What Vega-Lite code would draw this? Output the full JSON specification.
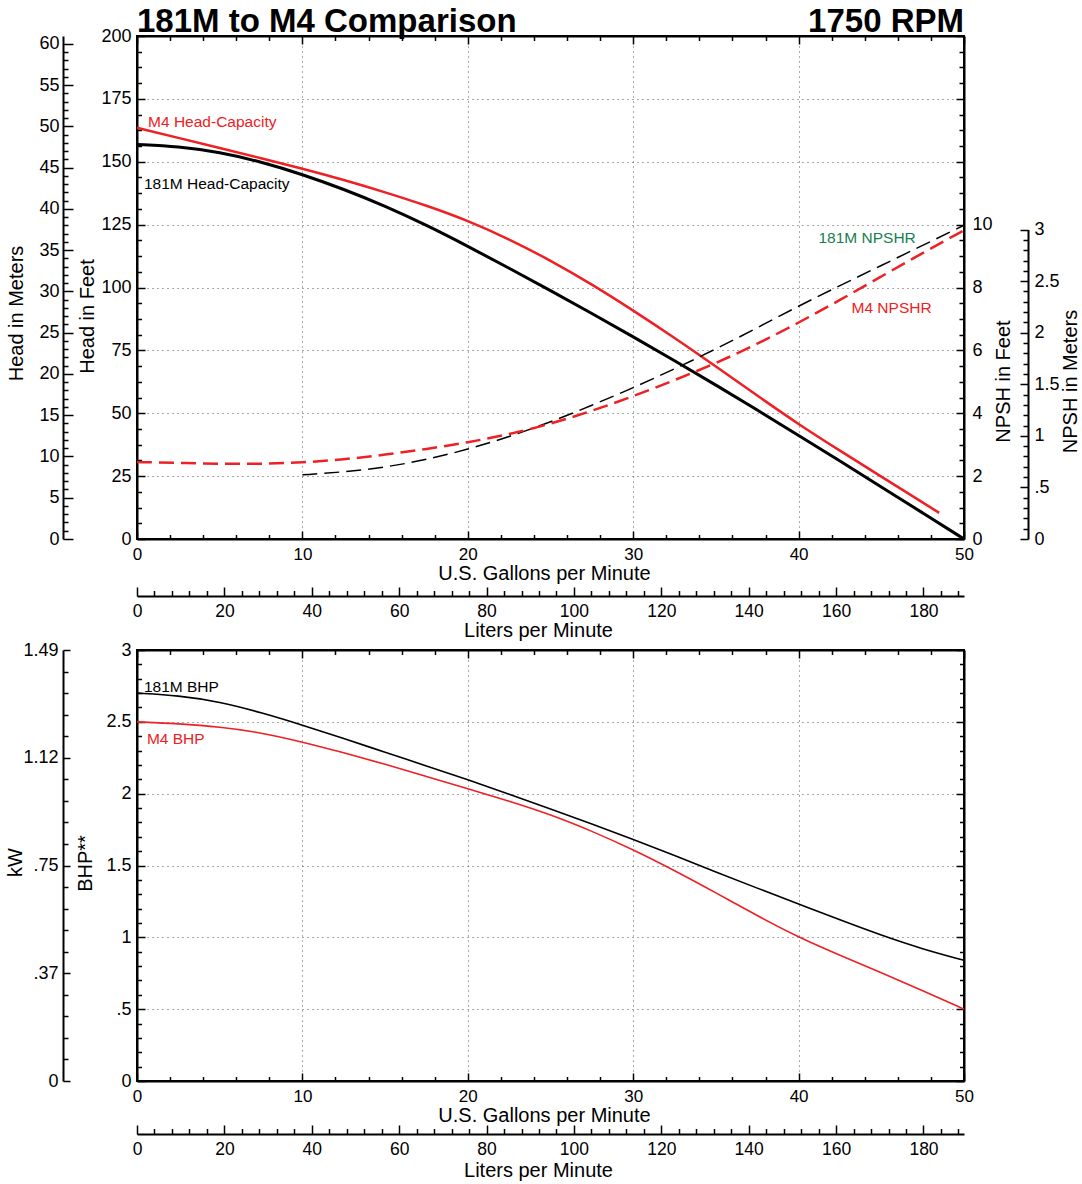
{
  "$schema": "https://vega.github.io/schema/vega-lite/v6.json",
  "autosize": {"type": "pad"},
  "padding": {"left": 4, "top": 5, "right": 2, "bottom": 3},
  "spacing": -1,
  "datasets": {
    "head": [
      {"pump": "181M", "gpm": 0, "ft": 156.9}, {"pump": "181M", "gpm": 2.5, "ft": 156.1}, {"pump": "181M", "gpm": 5, "ft": 153.8},
      {"pump": "181M", "gpm": 7.5, "ft": 150.0}, {"pump": "181M", "gpm": 10, "ft": 145.0}, {"pump": "181M", "gpm": 12.5, "ft": 139.1},
      {"pump": "181M", "gpm": 15, "ft": 132.4}, {"pump": "181M", "gpm": 17.5, "ft": 124.8}, {"pump": "181M", "gpm": 20, "ft": 116.4},
      {"pump": "181M", "gpm": 22.5, "ft": 107.7}, {"pump": "181M", "gpm": 25, "ft": 98.8}, {"pump": "181M", "gpm": 27.5, "ft": 89.7},
      {"pump": "181M", "gpm": 30, "ft": 80.4}, {"pump": "181M", "gpm": 32.5, "ft": 70.9}, {"pump": "181M", "gpm": 35, "ft": 61.2},
      {"pump": "181M", "gpm": 37.5, "ft": 51.3}, {"pump": "181M", "gpm": 40, "ft": 41.2}, {"pump": "181M", "gpm": 42.5, "ft": 31.0},
      {"pump": "181M", "gpm": 45, "ft": 20.7}, {"pump": "181M", "gpm": 47.5, "ft": 10.4}, {"pump": "181M", "gpm": 50, "ft": 0},
      {"pump": "M4", "gpm": 0, "ft": 163.5}, {"pump": "M4", "gpm": 2.5, "ft": 159.5}, {"pump": "M4", "gpm": 5, "ft": 155.5},
      {"pump": "M4", "gpm": 7.5, "ft": 151.4}, {"pump": "M4", "gpm": 10, "ft": 147.3}, {"pump": "M4", "gpm": 12.5, "ft": 142.8},
      {"pump": "M4", "gpm": 15, "ft": 137.9}, {"pump": "M4", "gpm": 17.5, "ft": 132.6}, {"pump": "M4", "gpm": 20, "ft": 126.6},
      {"pump": "M4", "gpm": 22.5, "ft": 119.2}, {"pump": "M4", "gpm": 25, "ft": 110.8}, {"pump": "M4", "gpm": 27.5, "ft": 101.3},
      {"pump": "M4", "gpm": 30, "ft": 90.9}, {"pump": "M4", "gpm": 32.5, "ft": 80.0}, {"pump": "M4", "gpm": 35, "ft": 68.6},
      {"pump": "M4", "gpm": 37.5, "ft": 57.0}, {"pump": "M4", "gpm": 40, "ft": 45.6}, {"pump": "M4", "gpm": 42.5, "ft": 35.1},
      {"pump": "M4", "gpm": 45, "ft": 24.8}, {"pump": "M4", "gpm": 47.5, "ft": 14.5}, {"pump": "M4", "gpm": 48.5, "ft": 10.4}
    ],
    "npsh": [
      {"pump": "181M", "gpm": 10, "ft": 2.04}, {"pump": "181M", "gpm": 12.5, "ft": 2.13}, {"pump": "181M", "gpm": 15, "ft": 2.28},
      {"pump": "181M", "gpm": 17.5, "ft": 2.52}, {"pump": "181M", "gpm": 20, "ft": 2.85}, {"pump": "181M", "gpm": 22.5, "ft": 3.25},
      {"pump": "181M", "gpm": 25, "ft": 3.72}, {"pump": "181M", "gpm": 27.5, "ft": 4.25}, {"pump": "181M", "gpm": 30, "ft": 4.81},
      {"pump": "181M", "gpm": 32.5, "ft": 5.41}, {"pump": "181M", "gpm": 35, "ft": 6.04}, {"pump": "181M", "gpm": 37.5, "ft": 6.72},
      {"pump": "181M", "gpm": 40, "ft": 7.41}, {"pump": "181M", "gpm": 42.5, "ft": 8.06}, {"pump": "181M", "gpm": 45, "ft": 8.70},
      {"pump": "181M", "gpm": 47.5, "ft": 9.34}, {"pump": "181M", "gpm": 50, "ft": 9.98},
      {"pump": "M4", "gpm": 0, "ft": 2.45}, {"pump": "M4", "gpm": 2.5, "ft": 2.42}, {"pump": "M4", "gpm": 5, "ft": 2.39},
      {"pump": "M4", "gpm": 7.5, "ft": 2.39}, {"pump": "M4", "gpm": 10, "ft": 2.43}, {"pump": "M4", "gpm": 12.5, "ft": 2.53},
      {"pump": "M4", "gpm": 15, "ft": 2.68}, {"pump": "M4", "gpm": 17.5, "ft": 2.86}, {"pump": "M4", "gpm": 20, "ft": 3.07},
      {"pump": "M4", "gpm": 22.5, "ft": 3.33}, {"pump": "M4", "gpm": 25, "ft": 3.66}, {"pump": "M4", "gpm": 27.5, "ft": 4.07},
      {"pump": "M4", "gpm": 30, "ft": 4.54}, {"pump": "M4", "gpm": 32.5, "ft": 5.05}, {"pump": "M4", "gpm": 35, "ft": 5.59},
      {"pump": "M4", "gpm": 37.5, "ft": 6.2}, {"pump": "M4", "gpm": 40, "ft": 6.88}, {"pump": "M4", "gpm": 42.5, "ft": 7.6},
      {"pump": "M4", "gpm": 45, "ft": 8.35}, {"pump": "M4", "gpm": 47.5, "ft": 9.1}, {"pump": "M4", "gpm": 50, "ft": 9.82}
    ],
    "bhp": [
      {"pump": "181M", "gpm": 0, "bhp": 2.70}, {"pump": "181M", "gpm": 2.5, "bhp": 2.683}, {"pump": "181M", "gpm": 5, "bhp": 2.64},
      {"pump": "181M", "gpm": 7.5, "bhp": 2.565}, {"pump": "181M", "gpm": 10, "bhp": 2.478}, {"pump": "181M", "gpm": 12.5, "bhp": 2.384},
      {"pump": "181M", "gpm": 15, "bhp": 2.288}, {"pump": "181M", "gpm": 17.5, "bhp": 2.193}, {"pump": "181M", "gpm": 20, "bhp": 2.097},
      {"pump": "181M", "gpm": 22.5, "bhp": 1.996}, {"pump": "181M", "gpm": 25, "bhp": 1.893}, {"pump": "181M", "gpm": 27.5, "bhp": 1.789},
      {"pump": "181M", "gpm": 30, "bhp": 1.682}, {"pump": "181M", "gpm": 32.5, "bhp": 1.569}, {"pump": "181M", "gpm": 35, "bhp": 1.455},
      {"pump": "181M", "gpm": 37.5, "bhp": 1.342}, {"pump": "181M", "gpm": 40, "bhp": 1.232}, {"pump": "181M", "gpm": 42.5, "bhp": 1.121},
      {"pump": "181M", "gpm": 45, "bhp": 1.014}, {"pump": "181M", "gpm": 47.5, "bhp": 0.918}, {"pump": "181M", "gpm": 50, "bhp": 0.84},
      {"pump": "M4", "gpm": 0, "bhp": 2.50}, {"pump": "M4", "gpm": 2.5, "bhp": 2.487}, {"pump": "M4", "gpm": 5, "bhp": 2.465},
      {"pump": "M4", "gpm": 7.5, "bhp": 2.425}, {"pump": "M4", "gpm": 10, "bhp": 2.36}, {"pump": "M4", "gpm": 12.5, "bhp": 2.285},
      {"pump": "M4", "gpm": 15, "bhp": 2.205}, {"pump": "M4", "gpm": 17.5, "bhp": 2.12}, {"pump": "M4", "gpm": 20, "bhp": 2.035},
      {"pump": "M4", "gpm": 22.5, "bhp": 1.948}, {"pump": "M4", "gpm": 25, "bhp": 1.855}, {"pump": "M4", "gpm": 27.5, "bhp": 1.74},
      {"pump": "M4", "gpm": 30, "bhp": 1.61}, {"pump": "M4", "gpm": 32.5, "bhp": 1.465}, {"pump": "M4", "gpm": 35, "bhp": 1.31},
      {"pump": "M4", "gpm": 37.5, "bhp": 1.15}, {"pump": "M4", "gpm": 40, "bhp": 1.00}, {"pump": "M4", "gpm": 42.5, "bhp": 0.875},
      {"pump": "M4", "gpm": 45, "bhp": 0.755}, {"pump": "M4", "gpm": 47.5, "bhp": 0.628}, {"pump": "M4", "gpm": 50, "bhp": 0.50}
    ],
    "labels_head": [
      {"label": "M4 Head-Capacity", "gpm": 0.67, "ft": 165.8},
      {"label": "181M Head-Capacity", "gpm": 0.42, "ft": 141.2}
    ],
    "labels_npsh": [
      {"label": "181M NPSHR", "gpm": 41.2, "ft": 9.57},
      {"label": "M4 NPSHR", "gpm": 43.2, "ft": 7.35}
    ],
    "labels_bhp": [
      {"label": "181M BHP", "gpm": 0.42, "bhp": 2.742},
      {"label": "M4 BHP", "gpm": 0.6, "bhp": 2.38}
    ],
    "carrier": [{"v": 0}]
  },
  "config": {
    "font": "Liberation Sans",
    "view": {"stroke": "black", "strokeWidth": 2},
    "axis": {
      "labelFont": "Liberation Sans", "labelFontSize": 18, "labelColor": "black",
      "titleFont": "Liberation Sans", "titleFontSize": 20, "titleFontWeight": "normal", "titleColor": "black",
      "domainColor": "black", "domainWidth": 2, "tickColor": "black", "tickWidth": 1.5,
      "labelOverlap": false, "labelFlush": false, "labelBound": false, "grid": false
    }
  },
  "resolve": {"scale": {"color": "independent", "strokeWidth": "independent"}},
  "vconcat": [
    {
      "width": 827,
      "height": 503,
      "resolve": {"scale": {"x": "independent", "y": "independent", "color": "independent", "strokeWidth": "independent"}, "axis": {"x": "independent", "y": "independent"}},
      "layer": [
        {
          "data": {"name": "head"},
          "mark": {"type": "line", "interpolate": "basis"},
          "encoding": {
            "x": {"field": "gpm", "type": "quantitative", "scale": {"domain": [0, 50], "nice": false, "zero": false},
              "axis": {"orient": "bottom", "values": [0,2,4,6,8,10,12,14,16,18,20,22,24,26,28,30,32,34,36,38,40,42,44,46,48,50],
                "tickSize": {"condition": {"test": "datum.value % 10 == 0", "value": -8}, "value": -4.5},
                "labelExpr": "datum.value % 10 == 0 ? datum.label : ''", "labelPadding": 15, "labelFontSize": 17,
                "grid": true, "gridDash": [1, 4], "gridColor": "#555555", "gridWidth": 1,
                "gridOpacity": {"condition": {"test": "datum.value % 10 == 0", "value": 1}, "value": 0},
                "title": "U.S. Gallons per Minute", "titleX": 407, "titleY": 34, "titleBaseline": "middle"}},
            "y": {"field": "ft", "type": "quantitative", "scale": {"domain": [0, 200], "nice": false},
              "axis": {"orient": "left", "values": [0,6.25,12.5,18.75,25,31.25,37.5,43.75,50,56.25,62.5,68.75,75,81.25,87.5,93.75,100,106.25,112.5,118.75,125,131.25,137.5,143.75,150,156.25,162.5,168.75,175,181.25,187.5,193.75,200],
                "tickSize": {"condition": {"test": "datum.value % 25 == 0", "value": -8}, "value": -4.5},
                "labelExpr": "datum.value % 25 == 0 ? datum.label : ''", "labelPadding": 14,
                "grid": true, "gridDash": [1, 4], "gridColor": "#555555", "gridWidth": 1,
                "gridOpacity": {"condition": {"test": "datum.value % 25 == 0", "value": 1}, "value": 0},
                "title": "Head in Feet", "titleX": -50, "titleY": 280, "titleBaseline": "middle"}},
            "color": {"field": "pump", "type": "nominal", "scale": {"domain": ["181M", "M4"], "range": ["#000000", "#ee2024"]}, "legend": null},
            "strokeWidth": {"field": "pump", "type": "nominal", "scale": {"domain": ["181M", "M4"], "range": [3, 2.5]}, "legend": null}
          }
        },
        {
          "data": {"name": "npsh"},
          "mark": {"type": "line", "interpolate": "basis", "strokeDash": [15, 7]},
          "encoding": {
            "x": {"field": "gpm", "type": "quantitative", "scale": {"domain": [0, 50], "nice": false, "zero": false},
              "axis": {"orient": "top", "values": [0,2,4,6,8,10,12,14,16,18,20,22,24,26,28,30,32,34,36,38,40,42,44,46,48,50],
                "tickSize": {"condition": {"test": "datum.value % 10 == 0", "value": -8}, "value": -4.5},
                "labels": false, "grid": false, "title": null}},
            "y": {"field": "ft", "type": "quantitative", "scale": {"domain": [0, 16], "nice": false},
              "axis": {"orient": "right", "values": [0,0.5,1,1.5,2,2.5,3,3.5,4,4.5,5,5.5,6,6.5,7,7.5,8,8.5,9,9.5,10,10.5,11,11.5,12,12.5,13,13.5,14,14.5,15,15.5,16],
                "tickSize": {"condition": {"test": "datum.value % 2 == 0", "value": -8}, "value": -5},
                "labelExpr": "datum.value % 2 == 0 && datum.value <= 10 ? format(datum.value, 'd') : ''", "labelPadding": 16,
                "grid": false, "title": "NPSH in Feet", "titleAngle": 270, "titleX": 39, "titleY": 345, "titleBaseline": "middle"}},
            "color": {"field": "pump", "type": "nominal", "scale": {"domain": ["181M", "M4"], "range": ["#000000", "#ee2024"]}, "legend": null},
            "strokeWidth": {"field": "pump", "type": "nominal", "scale": {"domain": ["181M", "M4"], "range": [1.5, 2.5]}, "legend": null}
          }
        },
        {
          "data": {"name": "labels_head"},
          "mark": {"type": "text", "align": "left", "baseline": "middle", "fontSize": 15.5, "font": "Liberation Sans"},
          "encoding": {
            "x": {"field": "gpm", "type": "quantitative", "scale": {"domain": [0, 50], "nice": false, "zero": false}, "axis": null},
            "y": {"field": "ft", "type": "quantitative", "scale": {"domain": [0, 200], "nice": false}, "axis": null},
            "text": {"field": "label"},
            "color": {"field": "label", "type": "nominal", "scale": {"domain": ["M4 Head-Capacity", "181M Head-Capacity"], "range": ["#ee2024", "#000000"]}, "legend": null}
          }
        },
        {
          "data": {"name": "labels_npsh"},
          "mark": {"type": "text", "align": "left", "baseline": "middle", "fontSize": 15.5, "font": "Liberation Sans"},
          "encoding": {
            "x": {"field": "gpm", "type": "quantitative", "scale": {"domain": [0, 50], "nice": false, "zero": false}, "axis": null},
            "y": {"field": "ft", "type": "quantitative", "scale": {"domain": [0, 16], "nice": false}, "axis": null},
            "text": {"field": "label"},
            "color": {"field": "label", "type": "nominal", "scale": {"domain": ["181M NPSHR", "M4 NPSHR"], "range": ["#17804f", "#ee2024"]}, "legend": null}
          }
        },
        {
          "data": {"name": "carrier"},
          "mark": {"type": "point", "opacity": 0},
          "encoding": {
            "x": {"field": "v", "type": "quantitative", "scale": {"domain": [0, 189.27], "nice": false, "zero": false},
              "axis": {"orient": "bottom", "offset": 57, "values": [0,4,8,12,16,20,24,28,32,36,40,44,48,52,56,60,64,68,72,76,80,84,88,92,96,100,104,108,112,116,120,124,128,132,136,140,144,148,152,156,160,164,168,172,176,180,184,188],
                "tickSize": {"condition": {"test": "datum.value % 20 == 0", "value": -9}, "value": -5.5},
                "labelExpr": "datum.value % 20 == 0 ? datum.label : ''", "labelPadding": 15, "labelFontSize": 17.5,
                "grid": false, "title": "Liters per Minute", "titleX": 401, "titleY": 34, "titleBaseline": "middle"}},
            "y": {"field": "v", "type": "quantitative", "scale": {"domain": [0, 60.96], "nice": false},
              "axis": {"orient": "left", "offset": 74, "values": [0,1,2,3,4,5,6,7,8,9,10,11,12,13,14,15,16,17,18,19,20,21,22,23,24,25,26,27,28,29,30,31,32,33,34,35,36,37,38,39,40,41,42,43,44,45,46,47,48,49,50,51,52,53,54,55,56,57,58,59,60],
                "tickSize": {"condition": {"test": "datum.value % 5 == 0", "value": -10}, "value": -5},
                "labelExpr": "datum.value % 5 == 0 ? datum.label : ''", "labelPadding": 14,
                "grid": false, "title": "Head in Meters", "titleX": -47, "titleY": 277, "titleBaseline": "middle"}}
          }
        },
        {
          "data": {"name": "carrier"},
          "mark": {"type": "point", "opacity": 0},
          "encoding": {
            "x": {"field": "v", "type": "quantitative", "scale": {"domain": [0, 50], "nice": false, "zero": false}, "axis": null},
            "y": {"field": "v", "type": "quantitative", "scale": {"domain": [0, 3], "range": [503, 193.6], "nice": false},
              "axis": {"orient": "right", "offset": 64, "values": [0,0.1,0.2,0.3,0.4,0.5,0.6,0.7,0.8,0.9,1,1.1,1.2,1.3,1.4,1.5,1.6,1.7,1.8,1.9,2,2.1,2.2,2.3,2.4,2.5,2.6,2.7,2.8,2.9,3],
                "tickSize": {"condition": {"test": "datum.value % 0.5 == 0", "value": -8}, "value": -5},
                "labelExpr": "datum.value % 0.5 == 0 ? (datum.value == 0.5 ? '.5' : format(datum.value, '~g')) : ''", "labelPadding": 14,
                "grid": false, "title": "NPSH in Meters", "titleAngle": 270, "titleX": 42, "titleY": 345, "titleBaseline": "middle"}}
          }
        },
        {
          "data": {"values": [{"t": "181M to M4 Comparison", "gpm": 0, "ft": 200}]},
          "mark": {"type": "text", "align": "left", "baseline": "alphabetic", "dy": -4, "font": "Liberation Sans", "fontWeight": "bold", "fontSize": 33},
          "encoding": {
            "x": {"field": "gpm", "type": "quantitative", "scale": {"domain": [0, 50], "nice": false, "zero": false}, "axis": null},
            "y": {"field": "ft", "type": "quantitative", "scale": {"domain": [0, 200], "nice": false}, "axis": null},
            "text": {"field": "t"}
          }
        },
        {
          "data": {"values": [{"t": "1750 RPM", "gpm": 50, "ft": 200}]},
          "mark": {"type": "text", "align": "right", "baseline": "alphabetic", "dy": -4, "font": "Liberation Sans", "fontWeight": "bold", "fontSize": 33},
          "encoding": {
            "x": {"field": "gpm", "type": "quantitative", "scale": {"domain": [0, 50], "nice": false, "zero": false}, "axis": null},
            "y": {"field": "ft", "type": "quantitative", "scale": {"domain": [0, 200], "nice": false}, "axis": null},
            "text": {"field": "t"}
          }
        }
      ]
    },
    {
      "width": 827,
      "height": 431,
      "resolve": {"scale": {"x": "independent", "y": "independent", "color": "independent", "strokeWidth": "independent"}, "axis": {"x": "independent", "y": "independent"}},
      "layer": [
        {
          "data": {"name": "bhp"},
          "mark": {"type": "line", "interpolate": "basis", "strokeWidth": 1.6},
          "encoding": {
            "x": {"field": "gpm", "type": "quantitative", "scale": {"domain": [0, 50], "nice": false, "zero": false},
              "axis": {"orient": "bottom", "values": [0,2,4,6,8,10,12,14,16,18,20,22,24,26,28,30,32,34,36,38,40,42,44,46,48,50],
                "tickSize": {"condition": {"test": "datum.value % 10 == 0", "value": -8}, "value": -4.5},
                "labelExpr": "datum.value % 10 == 0 ? datum.label : ''", "labelPadding": 15, "labelFontSize": 17,
                "grid": true, "gridDash": [1, 4], "gridColor": "#555555", "gridWidth": 1,
                "gridOpacity": {"condition": {"test": "datum.value % 10 == 0", "value": 1}, "value": 0},
                "title": "U.S. Gallons per Minute", "titleX": 407, "titleY": 34, "titleBaseline": "middle"}},
            "y": {"field": "bhp", "type": "quantitative", "scale": {"domain": [0, 3], "nice": false},
              "axis": {"orient": "left", "values": [0,0.1,0.2,0.3,0.4,0.5,0.6,0.7,0.8,0.9,1,1.1,1.2,1.3,1.4,1.5,1.6,1.7,1.8,1.9,2,2.1,2.2,2.3,2.4,2.5,2.6,2.7,2.8,2.9,3],
                "tickSize": {"condition": {"test": "datum.value % 0.5 == 0", "value": -8}, "value": -4.5},
                "labelExpr": "datum.value % 0.5 == 0 ? (datum.value == 0.5 ? '.5' : format(datum.value, '~g')) : ''", "labelPadding": 14,
                "grid": true, "gridDash": [1, 4], "gridColor": "#555555", "gridWidth": 1,
                "gridOpacity": {"condition": {"test": "datum.value % 0.5 == 0", "value": 1}, "value": 0},
                "title": "BHP**", "titleX": -51.5, "titleY": 213, "titleBaseline": "middle"}},
            "color": {"field": "pump", "type": "nominal", "scale": {"domain": ["181M", "M4"], "range": ["#000000", "#ee2024"]}, "legend": null}
          }
        },
        {
          "data": {"name": "labels_bhp"},
          "mark": {"type": "text", "align": "left", "baseline": "middle", "fontSize": 15.5, "font": "Liberation Sans"},
          "encoding": {
            "x": {"field": "gpm", "type": "quantitative", "scale": {"domain": [0, 50], "nice": false, "zero": false}, "axis": null},
            "y": {"field": "bhp", "type": "quantitative", "scale": {"domain": [0, 3], "nice": false}, "axis": null},
            "text": {"field": "label"},
            "color": {"field": "label", "type": "nominal", "scale": {"domain": ["181M BHP", "M4 BHP"], "range": ["#000000", "#ee2024"]}, "legend": null}
          }
        },
        {
          "data": {"name": "carrier"},
          "mark": {"type": "point", "opacity": 0},
          "encoding": {
            "x": {"field": "v", "type": "quantitative", "scale": {"domain": [0, 50], "nice": false, "zero": false},
              "axis": {"orient": "top", "values": [0,2,4,6,8,10,12,14,16,18,20,22,24,26,28,30,32,34,36,38,40,42,44,46,48,50],
                "tickSize": {"condition": {"test": "datum.value % 10 == 0", "value": -8}, "value": -4.5},
                "labels": false, "grid": false, "title": null}},
            "y": {"field": "v", "type": "quantitative", "scale": {"domain": [0, 3], "nice": false},
              "axis": {"orient": "right", "values": [0,0.1,0.2,0.3,0.4,0.5,0.6,0.7,0.8,0.9,1,1.1,1.2,1.3,1.4,1.5,1.6,1.7,1.8,1.9,2,2.1,2.2,2.3,2.4,2.5,2.6,2.7,2.8,2.9,3],
                "tickSize": {"condition": {"test": "datum.value % 0.5 == 0", "value": -8}, "value": -4.5},
                "labels": false, "grid": false, "title": null}}
          }
        },
        {
          "data": {"name": "carrier"},
          "mark": {"type": "point", "opacity": 0},
          "encoding": {
            "x": {"field": "v", "type": "quantitative", "scale": {"domain": [0, 189.27], "nice": false, "zero": false},
              "axis": {"orient": "bottom", "offset": 53, "values": [0,4,8,12,16,20,24,28,32,36,40,44,48,52,56,60,64,68,72,76,80,84,88,92,96,100,104,108,112,116,120,124,128,132,136,140,144,148,152,156,160,164,168,172,176,180,184,188],
                "tickSize": {"condition": {"test": "datum.value % 20 == 0", "value": -9}, "value": -5.5},
                "labelExpr": "datum.value % 20 == 0 ? datum.label : ''", "labelPadding": 15, "labelFontSize": 17.5,
                "grid": false, "title": "Liters per Minute", "titleX": 401, "titleY": 36, "titleBaseline": "middle"}},
            "y": {"field": "v", "type": "quantitative", "scale": {"domain": [0, 1.49], "nice": false},
              "axis": {"orient": "left", "offset": 74, "values": [0,0.0745,0.149,0.2235,0.298,0.3725,0.447,0.5215,0.596,0.6705,0.745,0.8195,0.894,0.9685,1.043,1.1175,1.192,1.2665,1.341,1.4155,1.49],
                "tickSize": {"condition": {"test": "datum.value == 0 || datum.value == 0.3725 || datum.value == 0.745 || datum.value == 1.1175 || datum.value == 1.49", "value": -7}, "value": -5},
                "labelExpr": "datum.value == 0 ? '0' : datum.value == 0.3725 ? '.37' : datum.value == 0.745 ? '.75' : datum.value == 1.1175 ? '1.12' : datum.value == 1.49 ? '1.49' : ''", "labelPadding": 12,
                "grid": false, "title": "kW", "titleX": -48, "titleY": 212, "titleBaseline": "middle"}}
          }
        }
      ]
    }
  ]
}
